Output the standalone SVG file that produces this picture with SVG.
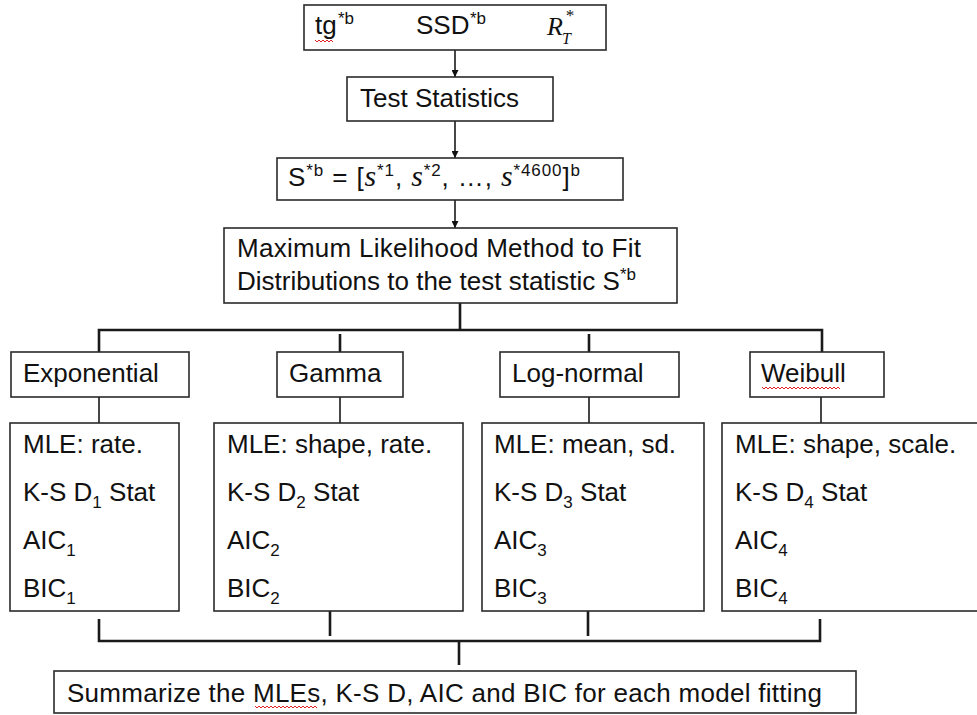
<svg xmlns="http://www.w3.org/2000/svg" width="977" height="715" viewBox="0 0 977 715">
<defs>
<style>
.box{fill:#fff;stroke:#2a2a2a;stroke-width:1.6}
.t{font-family:"Liberation Sans",Arial,sans-serif;font-size:26px;fill:#111}
.sup{font-size:17px}
.it{font-family:"Liberation Serif","Times New Roman",serif;font-style:italic}
.con{fill:none;stroke:#1a1a1a;stroke-width:1.6}
.brk{fill:none;stroke:#1a1a1a;stroke-width:2.6}
.sq{fill:none;stroke:#e02020;stroke-width:1}
</style>
<marker id="ah" viewBox="0 0 10 10" refX="10" refY="5" markerWidth="7" markerHeight="7" markerUnits="userSpaceOnUse" orient="auto">
<path d="M0,0 L10,5 L0,10 z" fill="#111"/>
</marker>
</defs>
<rect width="977" height="715" fill="#fff"/>

<g id="connectors">
<line class="con" x1="455" y1="50" x2="455" y2="77" marker-end="url(#ah)"/>
<line class="con" x1="455" y1="121" x2="455" y2="158" marker-end="url(#ah)"/>
<line class="con" x1="455" y1="200" x2="455" y2="228" marker-end="url(#ah)"/>
<path class="brk" d="M460,303 V330 M99,352 V330 H822 V352 M340,334 V352 M589,334 V352"/>
<path class="con" d="M99,397 V423 M340,397 V423 M589,397 V423 M821,397 V423"/>
<path class="brk" d="M99,619 V641 H820 V619 M330,611 V636 M588,611 V636 M459,641 V665"/>
</g>

<g id="inputs">
<rect class="box" x="304" y="5" width="302" height="45"/>
<text class="t" x="315" y="34">tg</text>
<text class="t sup" x="338" y="24">*b</text>
<text class="t" x="416" y="34">SSD</text>
<text class="t sup" x="470" y="24">*b</text>
<text class="t it" x="547" y="35">R</text>
<text class="t it" x="562" y="44" style="font-size:16px">T</text>
<text class="t it" x="565" y="21" style="font-size:17px">*</text>
<path class="sq" d="M315,40 l2,2 l2,-2 l2,2 l2,-2 l2,2 l2,-2 l2,2 l2,-2 l2,2"/>
</g>

<g id="test-statistics">
<rect class="box" x="347" y="77" width="206" height="44"/>
<text class="t" x="360" y="107">Test Statistics</text>
</g>

<g id="s-vector">
<rect class="box" x="277" y="158" width="346" height="42"/>
<text class="t" x="288" y="186" textLength="292">S<tspan class="sup" dy="-10">*b</tspan><tspan dy="10"> = [</tspan><tspan class="it" style="font-size:30px">s</tspan><tspan class="sup" dy="-10">*1</tspan><tspan dy="10">, </tspan><tspan class="it" style="font-size:30px">s</tspan><tspan class="sup" dy="-10">*2</tspan><tspan dy="10">, …, </tspan><tspan class="it" style="font-size:30px">s</tspan><tspan class="sup" dy="-10">*4600</tspan><tspan dy="10">]</tspan><tspan class="sup" dy="-10">b</tspan></text>
</g>

<g id="mle-fit">
<rect class="box" x="224" y="228" width="453" height="75"/>
<text class="t" x="237" y="257" textLength="404">Maximum Likelihood Method to Fit</text>
<text class="t" x="237" y="290">Distributions to the test statistic S<tspan class="sup" dy="-10">*b</tspan></text>
</g>

<g id="exponential">
<rect class="box" x="11" y="352" width="178" height="45"/>
<text class="t" x="23" y="382">Exponential</text>
</g>
<g id="gamma">
<rect class="box" x="277" y="352" width="126" height="45"/>
<text class="t" x="289" y="382">Gamma</text>
</g>
<g id="log-normal">
<rect class="box" x="500" y="352" width="179" height="45"/>
<text class="t" x="512" y="382">Log-normal</text>
</g>
<g id="weibull">
<rect class="box" x="750" y="352" width="134" height="45"/>
<text class="t" x="761" y="382">Weibull</text>
<path class="sq" d="M762,387 l2,2 l2,-2 l2,2 l2,-2 l2,2 l2,-2 l2,2 l2,-2 l2,2 l2,-2 l2,2 l2,-2 l2,2 l2,-2 l2,2 l2,-2 l2,2 l2,-2 l2,2 l2,-2 l2,2 l2,-2 l2,2 l2,-2 l2,2 l2,-2 l2,2 l2,-2 l2,2 l2,-2 l2,2 l2,-2 l2,2 l2,-2 l2,2 l2,-2 l2,2 l2,-2 l2,2"/>
</g>

<g id="exp-results">
<rect class="box" x="10" y="423" width="169" height="188"/>
<text class="t" x="23" y="453">MLE: rate.</text>
<text class="t" x="23" y="501">K-S D<tspan class="sup" dy="7">1</tspan><tspan dy="-7"> Stat</tspan></text>
<text class="t" x="23" y="549">AIC<tspan class="sup" dy="7">1</tspan></text>
<text class="t" x="23" y="597">BIC<tspan class="sup" dy="7">1</tspan></text>
</g>
<g id="gamma-results">
<rect class="box" x="214" y="423" width="249" height="188"/>
<text class="t" x="227" y="453">MLE: shape, rate.</text>
<text class="t" x="227" y="501">K-S D<tspan class="sup" dy="7">2</tspan><tspan dy="-7"> Stat</tspan></text>
<text class="t" x="227" y="549">AIC<tspan class="sup" dy="7">2</tspan></text>
<text class="t" x="227" y="597">BIC<tspan class="sup" dy="7">2</tspan></text>
</g>
<g id="lognormal-results">
<rect class="box" x="482" y="423" width="222" height="188"/>
<text class="t" x="494" y="453">MLE: mean, sd.</text>
<text class="t" x="494" y="501">K-S D<tspan class="sup" dy="7">3</tspan><tspan dy="-7"> Stat</tspan></text>
<text class="t" x="494" y="549">AIC<tspan class="sup" dy="7">3</tspan></text>
<text class="t" x="494" y="597">BIC<tspan class="sup" dy="7">3</tspan></text>
</g>
<g id="weibull-results">
<rect class="box" x="722" y="423" width="262" height="188"/>
<text class="t" x="735" y="453">MLE: shape, scale.</text>
<text class="t" x="735" y="501">K-S D<tspan class="sup" dy="7">4</tspan><tspan dy="-7"> Stat</tspan></text>
<text class="t" x="735" y="549">AIC<tspan class="sup" dy="7">4</tspan></text>
<text class="t" x="735" y="597">BIC<tspan class="sup" dy="7">4</tspan></text>
</g>

<g id="summary">
<rect class="box" x="54" y="671" width="802" height="42"/>
<text class="t" x="67" y="702" textLength="755">Summarize the MLEs, K-S D, AIC and BIC for each model fitting</text>
<path class="sq" d="M255,706 l2,2 l2,-2 l2,2 l2,-2 l2,2 l2,-2 l2,2 l2,-2 l2,2 l2,-2 l2,2 l2,-2 l2,2 l2,-2 l2,2 l2,-2 l2,2 l2,-2 l2,2 l2,-2 l2,2 l2,-2 l2,2 l2,-2 l2,2 l2,-2 l2,2 l2,-2 l2,2 l2,-2 l2,2"/>
</g>
</svg>
